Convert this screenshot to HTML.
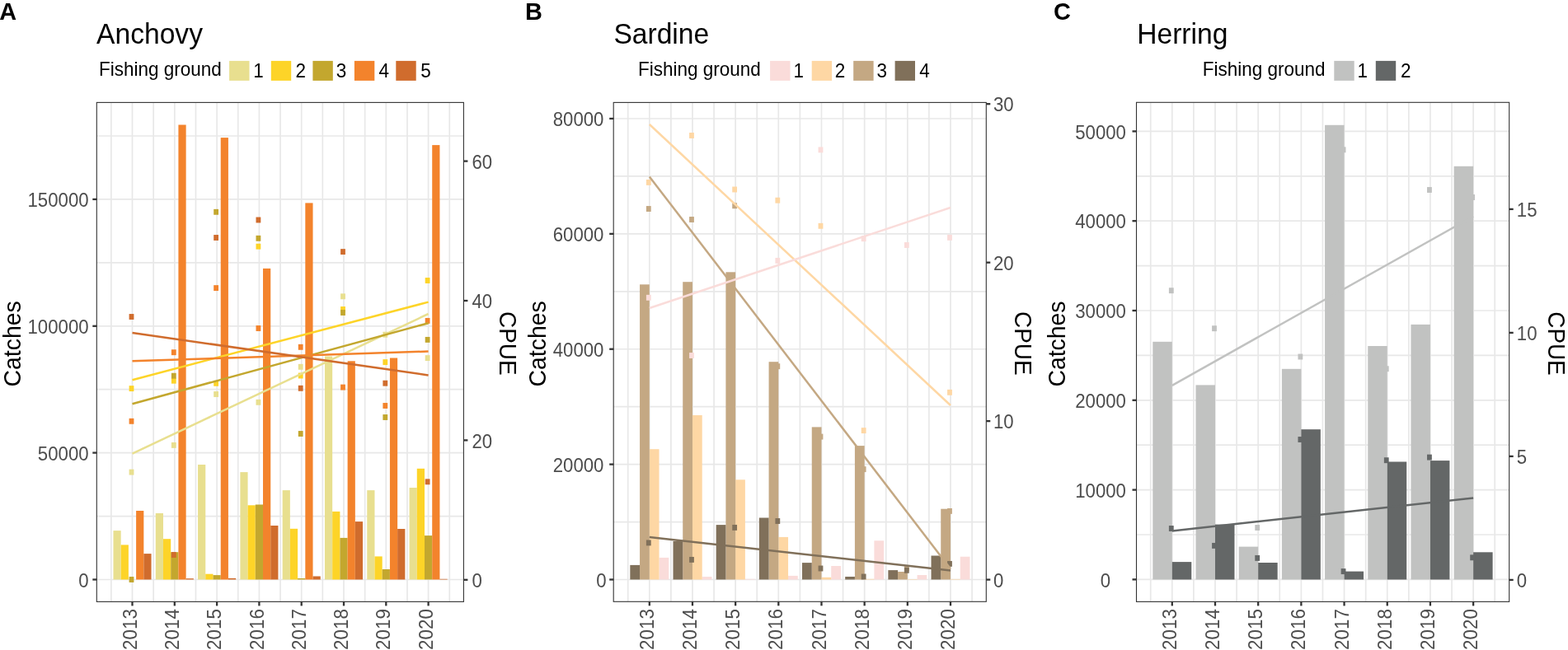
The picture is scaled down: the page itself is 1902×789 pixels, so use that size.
<!DOCTYPE html><html><head><meta charset="utf-8"><title>Catches and CPUE</title><style>html,body{margin:0;padding:0;background:#fff;overflow:hidden}svg{display:block}</style></head><body>
<svg width="1902" height="789" viewBox="0 0 1902 789" font-family="Liberation Sans, Arial, sans-serif">
<rect width="1902" height="789" fill="#fff"/>
<g stroke="#E8E8E8" stroke-width="1.7" fill="none">
<line x1="134.85" y1="124.4" x2="134.85" y2="730.4"/>
<line x1="160.5" y1="124.4" x2="160.5" y2="730.4"/>
<line x1="186.15" y1="124.4" x2="186.15" y2="730.4"/>
<line x1="211.8" y1="124.4" x2="211.8" y2="730.4"/>
<line x1="237.45" y1="124.4" x2="237.45" y2="730.4"/>
<line x1="263.1" y1="124.4" x2="263.1" y2="730.4"/>
<line x1="288.75" y1="124.4" x2="288.75" y2="730.4"/>
<line x1="314.4" y1="124.4" x2="314.4" y2="730.4"/>
<line x1="340.05" y1="124.4" x2="340.05" y2="730.4"/>
<line x1="365.7" y1="124.4" x2="365.7" y2="730.4"/>
<line x1="391.35" y1="124.4" x2="391.35" y2="730.4"/>
<line x1="417" y1="124.4" x2="417" y2="730.4"/>
<line x1="442.65" y1="124.4" x2="442.65" y2="730.4"/>
<line x1="468.3" y1="124.4" x2="468.3" y2="730.4"/>
<line x1="493.95" y1="124.4" x2="493.95" y2="730.4"/>
<line x1="519.6" y1="124.4" x2="519.6" y2="730.4"/>
<line x1="545.25" y1="124.4" x2="545.25" y2="730.4"/>
<line x1="117.3" y1="703.5" x2="562.4" y2="703.5"/>
<line x1="117.3" y1="626.57" x2="562.4" y2="626.57"/>
<line x1="117.3" y1="549.64" x2="562.4" y2="549.64"/>
<line x1="117.3" y1="472.71" x2="562.4" y2="472.71"/>
<line x1="117.3" y1="395.78" x2="562.4" y2="395.78"/>
<line x1="117.3" y1="318.85" x2="562.4" y2="318.85"/>
<line x1="117.3" y1="241.92" x2="562.4" y2="241.92"/>
<line x1="117.3" y1="164.99" x2="562.4" y2="164.99"/>
</g>
<g fill="#E8DF8F">
<rect x="137.45" y="644.1" width="9.22" height="59.4"/>
<rect x="188.75" y="623" width="9.22" height="80.5"/>
<rect x="240.05" y="564" width="9.22" height="139.5"/>
<rect x="291.35" y="573.1" width="9.22" height="130.4"/>
<rect x="342.65" y="595.1" width="9.22" height="108.4"/>
<rect x="393.95" y="432.5" width="9.22" height="271"/>
<rect x="445.25" y="595.1" width="9.22" height="108.4"/>
<rect x="496.55" y="592" width="9.22" height="111.5"/>
</g>
<g fill="#FDD428">
<rect x="146.67" y="661.4" width="9.22" height="42.1"/>
<rect x="197.97" y="654.2" width="9.22" height="49.3"/>
<rect x="249.27" y="696.7" width="9.22" height="6.8"/>
<rect x="300.57" y="613.3" width="9.22" height="90.2"/>
<rect x="351.87" y="641.8" width="9.22" height="61.7"/>
<rect x="403.17" y="620.9" width="9.22" height="82.6"/>
<rect x="454.47" y="675.4" width="9.22" height="28.1"/>
<rect x="505.77" y="568.8" width="9.22" height="134.7"/>
</g>
<g fill="#C3A72E">
<rect x="207.19" y="670.2" width="9.22" height="33.3"/>
<rect x="258.49" y="698.1" width="9.22" height="5.4"/>
<rect x="309.79" y="612.5" width="9.22" height="91"/>
<rect x="361.09" y="702" width="9.22" height="1.5"/>
<rect x="412.39" y="652.9" width="9.22" height="50.6"/>
<rect x="463.69" y="691" width="9.22" height="12.5"/>
<rect x="514.99" y="650.1" width="9.22" height="53.4"/>
</g>
<g fill="#F3832C">
<rect x="165.11" y="620" width="9.22" height="83.5"/>
<rect x="216.41" y="151.5" width="9.22" height="552"/>
<rect x="267.71" y="167.1" width="9.22" height="536.4"/>
<rect x="319.01" y="325.9" width="9.22" height="377.6"/>
<rect x="370.31" y="246.4" width="9.22" height="457.1"/>
<rect x="421.61" y="438.3" width="9.22" height="265.2"/>
<rect x="472.91" y="434.5" width="9.22" height="269"/>
<rect x="524.21" y="176.1" width="9.22" height="527.4"/>
</g>
<g fill="#D06C2D">
<rect x="174.33" y="672.1" width="9.22" height="31.4"/>
<rect x="225.63" y="702.2" width="9.22" height="1.3"/>
<rect x="276.93" y="701.9" width="9.22" height="1.6"/>
<rect x="328.23" y="638" width="9.22" height="65.5"/>
<rect x="379.53" y="699.5" width="9.22" height="4"/>
<rect x="430.83" y="633.1" width="9.22" height="70.4"/>
<rect x="482.13" y="642" width="9.22" height="61.5"/>
<rect x="533.43" y="702.8" width="9.22" height="0.7"/>
</g>
<g fill="#E8DF8F">
<rect x="156.6" y="569.65" width="5.8" height="6.9"/>
<rect x="207.9" y="536.95" width="5.8" height="6.9"/>
<rect x="259.2" y="475.05" width="5.8" height="6.9"/>
<rect x="310.5" y="484.85" width="5.8" height="6.9"/>
<rect x="361.8" y="441.85" width="5.8" height="6.9"/>
<rect x="413.1" y="356.35" width="5.8" height="6.9"/>
<rect x="464.4" y="402.75" width="5.8" height="6.9"/>
<rect x="515.7" y="431.15" width="5.8" height="6.9"/>
</g>
<g fill="#FDD428">
<rect x="156.6" y="468.15" width="5.8" height="6.9"/>
<rect x="207.9" y="458.75" width="5.8" height="6.9"/>
<rect x="259.2" y="461.85" width="5.8" height="6.9"/>
<rect x="310.5" y="295.75" width="5.8" height="6.9"/>
<rect x="361.8" y="452.55" width="5.8" height="6.9"/>
<rect x="413.1" y="372.05" width="5.8" height="6.9"/>
<rect x="464.4" y="436.15" width="5.8" height="6.9"/>
<rect x="515.7" y="337.05" width="5.8" height="6.9"/>
</g>
<g fill="#C3A72E">
<rect x="156.6" y="700.05" width="5.8" height="6.9"/>
<rect x="207.9" y="452.75" width="5.8" height="6.9"/>
<rect x="259.2" y="253.85" width="5.8" height="6.9"/>
<rect x="310.5" y="285.85" width="5.8" height="6.9"/>
<rect x="361.8" y="523.05" width="5.8" height="6.9"/>
<rect x="413.1" y="376.05" width="5.8" height="6.9"/>
<rect x="464.4" y="503.05" width="5.8" height="6.9"/>
<rect x="515.7" y="408.95" width="5.8" height="6.9"/>
</g>
<g fill="#F3832C">
<rect x="156.6" y="507.85" width="5.8" height="6.9"/>
<rect x="207.9" y="424.25" width="5.8" height="6.9"/>
<rect x="259.2" y="346.15" width="5.8" height="6.9"/>
<rect x="310.5" y="395.05" width="5.8" height="6.9"/>
<rect x="361.8" y="417.85" width="5.8" height="6.9"/>
<rect x="413.1" y="466.65" width="5.8" height="6.9"/>
<rect x="464.4" y="489.05" width="5.8" height="6.9"/>
<rect x="515.7" y="385.95" width="5.8" height="6.9"/>
</g>
<g fill="#D06C2D">
<rect x="156.6" y="381.05" width="5.8" height="6.9"/>
<rect x="207.9" y="670.05" width="5.8" height="6.9"/>
<rect x="259.2" y="285.05" width="5.8" height="6.9"/>
<rect x="310.5" y="263.55" width="5.8" height="6.9"/>
<rect x="361.8" y="467.85" width="5.8" height="6.9"/>
<rect x="413.1" y="302.15" width="5.8" height="6.9"/>
<rect x="464.4" y="461.75" width="5.8" height="6.9"/>
<rect x="515.7" y="581.35" width="5.8" height="6.9"/>
</g>
<line x1="160.5" y1="550.6" x2="519.6" y2="381" stroke="#E8DF8F" stroke-width="2.5"/>
<line x1="160.5" y1="461.2" x2="519.6" y2="366.6" stroke="#FDD428" stroke-width="2.5"/>
<line x1="160.5" y1="490.2" x2="519.6" y2="392.2" stroke="#C3A72E" stroke-width="2.5"/>
<line x1="160.5" y1="438.3" x2="519.6" y2="426.5" stroke="#F3832C" stroke-width="2.5"/>
<line x1="160.5" y1="404" x2="519.6" y2="455.4" stroke="#D06C2D" stroke-width="2.5"/>
<rect x="117.3" y="124.4" width="445.1" height="606" fill="none" stroke="#333333" stroke-width="1.1"/>
<g stroke="#333333" stroke-width="2.3">
<line x1="112.3" y1="703.5" x2="117.3" y2="703.5"/>
<line x1="112.3" y1="549.6" x2="117.3" y2="549.6"/>
<line x1="112.3" y1="395.8" x2="117.3" y2="395.8"/>
<line x1="112.3" y1="241.9" x2="117.3" y2="241.9"/>
<line x1="562.4" y1="703.8" x2="567.4" y2="703.8"/>
<line x1="562.4" y1="534.4" x2="567.4" y2="534.4"/>
<line x1="562.4" y1="365" x2="567.4" y2="365"/>
<line x1="562.4" y1="195.6" x2="567.4" y2="195.6"/>
<line x1="160.5" y1="730.4" x2="160.5" y2="735.4"/>
<line x1="211.8" y1="730.4" x2="211.8" y2="735.4"/>
<line x1="263.1" y1="730.4" x2="263.1" y2="735.4"/>
<line x1="314.4" y1="730.4" x2="314.4" y2="735.4"/>
<line x1="365.7" y1="730.4" x2="365.7" y2="735.4"/>
<line x1="417" y1="730.4" x2="417" y2="735.4"/>
<line x1="468.3" y1="730.4" x2="468.3" y2="735.4"/>
<line x1="519.6" y1="730.4" x2="519.6" y2="735.4"/>
</g>
<text transform="translate(95.26,712.69) scale(1,1.05)" font-size="22.2" fill="#4D4D4D">0</text>
<text transform="translate(45.86,558.79) scale(1,1.05)" font-size="22.2" fill="#4D4D4D">50000</text>
<text transform="translate(33.52,404.99) scale(1,1.05)" font-size="22.2" fill="#4D4D4D">100000</text>
<text transform="translate(33.52,251.09) scale(1,1.05)" font-size="22.2" fill="#4D4D4D">150000</text>
<text transform="translate(572.5,712.99) scale(1,1.05)" font-size="22.2" fill="#4D4D4D">0</text>
<text transform="translate(572.5,543.59) scale(1,1.05)" font-size="22.2" fill="#4D4D4D">20</text>
<text transform="translate(572.5,374.19) scale(1,1.05)" font-size="22.2" fill="#4D4D4D">40</text>
<text transform="translate(572.5,204.79) scale(1,1.05)" font-size="22.2" fill="#4D4D4D">60</text>
<text transform="translate(165.6,788.93) rotate(-90) scale(1,1.04)" font-size="22.4" fill="#4D4D4D">2013</text>
<text transform="translate(216.9,788.93) rotate(-90) scale(1,1.04)" font-size="22.4" fill="#4D4D4D">2014</text>
<text transform="translate(268.2,788.93) rotate(-90) scale(1,1.04)" font-size="22.4" fill="#4D4D4D">2015</text>
<text transform="translate(319.5,788.93) rotate(-90) scale(1,1.04)" font-size="22.4" fill="#4D4D4D">2016</text>
<text transform="translate(370.8,788.93) rotate(-90) scale(1,1.04)" font-size="22.4" fill="#4D4D4D">2017</text>
<text transform="translate(422.1,788.93) rotate(-90) scale(1,1.04)" font-size="22.4" fill="#4D4D4D">2018</text>
<text transform="translate(473.4,788.93) rotate(-90) scale(1,1.04)" font-size="22.4" fill="#4D4D4D">2019</text>
<text transform="translate(524.7,788.93) rotate(-90) scale(1,1.04)" font-size="22.4" fill="#4D4D4D">2020</text>
<text transform="translate(24.7,469.49) rotate(-90) scale(1,1.05)" font-size="28.4" fill="#000">Catches</text>
<text transform="translate(605.5,378.04) rotate(90) scale(1,1.06)" font-size="27.9" fill="#000">CPUE</text>
<text transform="translate(117.1,52.7) scale(1,1.05)" font-size="33.6" fill="#000">Anchovy</text>
<text transform="translate(-0.8,24.4) scale(1,1.05)" font-size="28.9" fill="#000" font-weight="bold">A</text>
<text transform="translate(120,91.6) scale(1,1.04)" font-size="22.5" fill="#000">Fishing ground</text>
<rect x="278.1" y="73.9" width="24.4" height="24" fill="#E8DF8F"/>
<text transform="translate(307.3,93.6) scale(1,1.04)" font-size="22.5" fill="#000">1</text>
<rect x="328.8" y="73.9" width="24.4" height="24" fill="#FDD428"/>
<text transform="translate(358.5,93.6) scale(1,1.04)" font-size="22.5" fill="#000">2</text>
<rect x="379.4" y="73.9" width="24.4" height="24" fill="#C3A72E"/>
<text transform="translate(407.8,93.6) scale(1,1.04)" font-size="22.5" fill="#000">3</text>
<rect x="429.9" y="73.9" width="24.4" height="24" fill="#F3832C"/>
<text transform="translate(459.5,93.6) scale(1,1.04)" font-size="22.5" fill="#000">4</text>
<rect x="480.3" y="73.9" width="24.4" height="24" fill="#D06C2D"/>
<text transform="translate(510.3,93.6) scale(1,1.04)" font-size="22.5" fill="#000">5</text>
<g stroke="#E8E8E8" stroke-width="1.7" fill="none">
<line x1="761.71" y1="124.4" x2="761.71" y2="730.3"/>
<line x1="787.8" y1="124.4" x2="787.8" y2="730.3"/>
<line x1="813.88" y1="124.4" x2="813.88" y2="730.3"/>
<line x1="839.97" y1="124.4" x2="839.97" y2="730.3"/>
<line x1="866.05" y1="124.4" x2="866.05" y2="730.3"/>
<line x1="892.14" y1="124.4" x2="892.14" y2="730.3"/>
<line x1="918.22" y1="124.4" x2="918.22" y2="730.3"/>
<line x1="944.31" y1="124.4" x2="944.31" y2="730.3"/>
<line x1="970.39" y1="124.4" x2="970.39" y2="730.3"/>
<line x1="996.48" y1="124.4" x2="996.48" y2="730.3"/>
<line x1="1022.56" y1="124.4" x2="1022.56" y2="730.3"/>
<line x1="1048.65" y1="124.4" x2="1048.65" y2="730.3"/>
<line x1="1074.73" y1="124.4" x2="1074.73" y2="730.3"/>
<line x1="1100.82" y1="124.4" x2="1100.82" y2="730.3"/>
<line x1="1126.9" y1="124.4" x2="1126.9" y2="730.3"/>
<line x1="1152.99" y1="124.4" x2="1152.99" y2="730.3"/>
<line x1="1179.08" y1="124.4" x2="1179.08" y2="730.3"/>
<line x1="744.2" y1="703.5" x2="1196.3" y2="703.5"/>
<line x1="744.2" y1="633.56" x2="1196.3" y2="633.56"/>
<line x1="744.2" y1="563.62" x2="1196.3" y2="563.62"/>
<line x1="744.2" y1="493.68" x2="1196.3" y2="493.68"/>
<line x1="744.2" y1="423.74" x2="1196.3" y2="423.74"/>
<line x1="744.2" y1="353.8" x2="1196.3" y2="353.8"/>
<line x1="744.2" y1="283.86" x2="1196.3" y2="283.86"/>
<line x1="744.2" y1="213.92" x2="1196.3" y2="213.92"/>
<line x1="744.2" y1="143.98" x2="1196.3" y2="143.98"/>
</g>
<g fill="#FADCDA">
<rect x="799.54" y="676.9" width="11.74" height="26.6"/>
<rect x="851.71" y="700.1" width="11.74" height="3.4"/>
<rect x="903.88" y="702.8" width="11.74" height="0.7"/>
<rect x="956.05" y="698.9" width="11.74" height="4.6"/>
<rect x="1008.22" y="687" width="11.74" height="16.5"/>
<rect x="1060.39" y="656.3" width="11.74" height="47.2"/>
<rect x="1112.56" y="698" width="11.74" height="5.5"/>
<rect x="1164.73" y="675.7" width="11.74" height="27.8"/>
</g>
<g fill="#FED7A4">
<rect x="787.8" y="545.2" width="11.74" height="158.3"/>
<rect x="839.97" y="504" width="11.74" height="199.5"/>
<rect x="892.14" y="582.3" width="11.74" height="121.2"/>
<rect x="944.31" y="651.9" width="11.74" height="51.6"/>
<rect x="996.48" y="700.8" width="11.74" height="2.7"/>
<rect x="1048.65" y="702.8" width="11.74" height="0.7"/>
<rect x="1100.82" y="703" width="11.74" height="0.5"/>
<rect x="1152.99" y="702.9" width="11.74" height="0.6"/>
</g>
<g fill="#C4A883">
<rect x="776.06" y="345.3" width="11.74" height="358.2"/>
<rect x="828.23" y="342.2" width="11.74" height="361.3"/>
<rect x="880.4" y="330.3" width="11.74" height="373.2"/>
<rect x="932.57" y="439.2" width="11.74" height="264.3"/>
<rect x="984.74" y="518.4" width="11.74" height="185.1"/>
<rect x="1036.91" y="541.1" width="11.74" height="162.4"/>
<rect x="1089.08" y="694" width="11.74" height="9.5"/>
<rect x="1141.25" y="617.7" width="11.74" height="85.8"/>
</g>
<g fill="#80705A">
<rect x="764.32" y="685.9" width="11.74" height="17.6"/>
<rect x="816.49" y="657" width="11.74" height="46.5"/>
<rect x="868.66" y="637.1" width="11.74" height="66.4"/>
<rect x="920.83" y="628.5" width="11.74" height="75"/>
<rect x="973" y="683.1" width="11.74" height="20.4"/>
<rect x="1025.17" y="700" width="11.74" height="3.5"/>
<rect x="1077.34" y="692.1" width="11.74" height="11.4"/>
<rect x="1129.51" y="674.5" width="11.74" height="29"/>
</g>
<g fill="#FADCDA">
<rect x="783.9" y="357.85" width="5.8" height="6.9"/>
<rect x="836.07" y="428.05" width="5.8" height="6.9"/>
<rect x="940.41" y="312.95" width="5.8" height="6.9"/>
<rect x="992.58" y="178.45" width="5.8" height="6.9"/>
<rect x="1044.75" y="286.25" width="5.8" height="6.9"/>
<rect x="1096.92" y="294.05" width="5.8" height="6.9"/>
<rect x="1149.09" y="284.95" width="5.8" height="6.9"/>
</g>
<g fill="#FED7A4">
<rect x="783.9" y="217.95" width="5.8" height="6.9"/>
<rect x="836.07" y="161.05" width="5.8" height="6.9"/>
<rect x="888.24" y="226.55" width="5.8" height="6.9"/>
<rect x="940.41" y="239.75" width="5.8" height="6.9"/>
<rect x="992.58" y="270.85" width="5.8" height="6.9"/>
<rect x="1044.75" y="519.15" width="5.8" height="6.9"/>
<rect x="1149.09" y="472.85" width="5.8" height="6.9"/>
</g>
<g fill="#C4A883">
<rect x="783.9" y="250.05" width="5.8" height="6.9"/>
<rect x="836.07" y="263.05" width="5.8" height="6.9"/>
<rect x="888.24" y="246.35" width="5.8" height="6.9"/>
<rect x="940.41" y="441.25" width="5.8" height="6.9"/>
<rect x="992.58" y="526.65" width="5.8" height="6.9"/>
<rect x="1044.75" y="566.15" width="5.8" height="6.9"/>
<rect x="1096.92" y="686.05" width="5.8" height="6.9"/>
<rect x="1149.09" y="616.95" width="5.8" height="6.9"/>
</g>
<g fill="#80705A">
<rect x="783.9" y="655.45" width="5.8" height="6.9"/>
<rect x="836.07" y="675.95" width="5.8" height="6.9"/>
<rect x="888.24" y="636.95" width="5.8" height="6.9"/>
<rect x="940.41" y="629.05" width="5.8" height="6.9"/>
<rect x="992.58" y="686.55" width="5.8" height="6.9"/>
<rect x="1044.75" y="696.55" width="5.8" height="6.9"/>
<rect x="1096.92" y="688.85" width="5.8" height="6.9"/>
<rect x="1149.09" y="680.95" width="5.8" height="6.9"/>
</g>
<line x1="787.8" y1="652.1" x2="1152.99" y2="692.4" stroke="#80705A" stroke-width="2.5"/>
<line x1="787.8" y1="214.4" x2="1152.99" y2="690.5" stroke="#C4A883" stroke-width="2.5"/>
<line x1="787.8" y1="151" x2="1152.99" y2="492" stroke="#FED7A4" stroke-width="2.5"/>
<line x1="787.8" y1="374" x2="1152.99" y2="252" stroke="#FADCDA" stroke-width="2.5"/>
<rect x="744.2" y="124.4" width="452.1" height="605.9" fill="none" stroke="#333333" stroke-width="1.1"/>
<g stroke="#333333" stroke-width="2.3">
<line x1="739.2" y1="703.5" x2="744.2" y2="703.5"/>
<line x1="739.2" y1="563.62" x2="744.2" y2="563.62"/>
<line x1="739.2" y1="423.74" x2="744.2" y2="423.74"/>
<line x1="739.2" y1="283.86" x2="744.2" y2="283.86"/>
<line x1="739.2" y1="143.98" x2="744.2" y2="143.98"/>
<line x1="1196.3" y1="703.6" x2="1201.3" y2="703.6"/>
<line x1="1196.3" y1="511.13" x2="1201.3" y2="511.13"/>
<line x1="1196.3" y1="318.66" x2="1201.3" y2="318.66"/>
<line x1="1196.3" y1="126.19" x2="1201.3" y2="126.19"/>
<line x1="787.8" y1="730.3" x2="787.8" y2="735.3"/>
<line x1="839.97" y1="730.3" x2="839.97" y2="735.3"/>
<line x1="892.14" y1="730.3" x2="892.14" y2="735.3"/>
<line x1="944.31" y1="730.3" x2="944.31" y2="735.3"/>
<line x1="996.48" y1="730.3" x2="996.48" y2="735.3"/>
<line x1="1048.65" y1="730.3" x2="1048.65" y2="735.3"/>
<line x1="1100.82" y1="730.3" x2="1100.82" y2="735.3"/>
<line x1="1152.99" y1="730.3" x2="1152.99" y2="735.3"/>
</g>
<text transform="translate(723.26,713.19) scale(1,1.05)" font-size="22.2" fill="#4D4D4D">0</text>
<text transform="translate(670.76,572.81) scale(1,1.05)" font-size="22.2" fill="#4D4D4D">20000</text>
<text transform="translate(670.76,432.93) scale(1,1.05)" font-size="22.2" fill="#4D4D4D">40000</text>
<text transform="translate(670.76,293.05) scale(1,1.05)" font-size="22.2" fill="#4D4D4D">60000</text>
<text transform="translate(670.76,153.17) scale(1,1.05)" font-size="22.2" fill="#4D4D4D">80000</text>
<text transform="translate(1204.9,712.79) scale(1,1.05)" font-size="22.2" fill="#4D4D4D">0</text>
<text transform="translate(1204.9,520.32) scale(1,1.05)" font-size="22.2" fill="#4D4D4D">10</text>
<text transform="translate(1204.9,327.85) scale(1,1.05)" font-size="22.2" fill="#4D4D4D">20</text>
<text transform="translate(1204.9,135.38) scale(1,1.05)" font-size="22.2" fill="#4D4D4D">30</text>
<text transform="translate(792.9,788.93) rotate(-90) scale(1,1.04)" font-size="22.4" fill="#4D4D4D">2013</text>
<text transform="translate(845.07,788.93) rotate(-90) scale(1,1.04)" font-size="22.4" fill="#4D4D4D">2014</text>
<text transform="translate(897.24,788.93) rotate(-90) scale(1,1.04)" font-size="22.4" fill="#4D4D4D">2015</text>
<text transform="translate(949.41,788.93) rotate(-90) scale(1,1.04)" font-size="22.4" fill="#4D4D4D">2016</text>
<text transform="translate(1001.58,788.93) rotate(-90) scale(1,1.04)" font-size="22.4" fill="#4D4D4D">2017</text>
<text transform="translate(1053.75,788.93) rotate(-90) scale(1,1.04)" font-size="22.4" fill="#4D4D4D">2018</text>
<text transform="translate(1105.92,788.93) rotate(-90) scale(1,1.04)" font-size="22.4" fill="#4D4D4D">2019</text>
<text transform="translate(1158.09,788.93) rotate(-90) scale(1,1.04)" font-size="22.4" fill="#4D4D4D">2020</text>
<text transform="translate(661.7,469.49) rotate(-90) scale(1,1.05)" font-size="28.4" fill="#000">Catches</text>
<text transform="translate(1230.6,378.04) rotate(90) scale(1,1.06)" font-size="27.9" fill="#000">CPUE</text>
<text transform="translate(744.4,52.7) scale(1,1.05)" font-size="33.6" fill="#000">Sardine</text>
<text transform="translate(637.1,24.4) scale(1,1.05)" font-size="28.9" fill="#000" font-weight="bold">B</text>
<text transform="translate(774.1,91.6) scale(1,1.04)" font-size="22.5" fill="#000">Fishing ground</text>
<rect x="934.1" y="73.9" width="24.4" height="24" fill="#FADCDA"/>
<text transform="translate(962.6,93.6) scale(1,1.04)" font-size="22.5" fill="#000">1</text>
<rect x="984.7" y="73.9" width="24.4" height="24" fill="#FED7A4"/>
<text transform="translate(1012.7,93.6) scale(1,1.04)" font-size="22.5" fill="#000">2</text>
<rect x="1035.2" y="73.9" width="24.4" height="24" fill="#C4A883"/>
<text transform="translate(1063.5,93.6) scale(1,1.04)" font-size="22.5" fill="#000">3</text>
<rect x="1085.6" y="73.9" width="24.4" height="24" fill="#80705A"/>
<text transform="translate(1115.3,93.6) scale(1,1.04)" font-size="22.5" fill="#000">4</text>
<g stroke="#E8E8E8" stroke-width="1.7" fill="none">
<line x1="1395.7" y1="124.3" x2="1395.7" y2="730.4"/>
<line x1="1421.8" y1="124.3" x2="1421.8" y2="730.4"/>
<line x1="1447.89" y1="124.3" x2="1447.89" y2="730.4"/>
<line x1="1473.99" y1="124.3" x2="1473.99" y2="730.4"/>
<line x1="1500.09" y1="124.3" x2="1500.09" y2="730.4"/>
<line x1="1526.18" y1="124.3" x2="1526.18" y2="730.4"/>
<line x1="1552.27" y1="124.3" x2="1552.27" y2="730.4"/>
<line x1="1578.37" y1="124.3" x2="1578.37" y2="730.4"/>
<line x1="1604.46" y1="124.3" x2="1604.46" y2="730.4"/>
<line x1="1630.56" y1="124.3" x2="1630.56" y2="730.4"/>
<line x1="1656.65" y1="124.3" x2="1656.65" y2="730.4"/>
<line x1="1682.75" y1="124.3" x2="1682.75" y2="730.4"/>
<line x1="1708.84" y1="124.3" x2="1708.84" y2="730.4"/>
<line x1="1734.94" y1="124.3" x2="1734.94" y2="730.4"/>
<line x1="1761.03" y1="124.3" x2="1761.03" y2="730.4"/>
<line x1="1787.13" y1="124.3" x2="1787.13" y2="730.4"/>
<line x1="1813.22" y1="124.3" x2="1813.22" y2="730.4"/>
<line x1="1378.5" y1="703.4" x2="1830.7" y2="703.4"/>
<line x1="1378.5" y1="649" x2="1830.7" y2="649"/>
<line x1="1378.5" y1="594.6" x2="1830.7" y2="594.6"/>
<line x1="1378.5" y1="540.2" x2="1830.7" y2="540.2"/>
<line x1="1378.5" y1="485.8" x2="1830.7" y2="485.8"/>
<line x1="1378.5" y1="431.4" x2="1830.7" y2="431.4"/>
<line x1="1378.5" y1="377" x2="1830.7" y2="377"/>
<line x1="1378.5" y1="322.6" x2="1830.7" y2="322.6"/>
<line x1="1378.5" y1="268.2" x2="1830.7" y2="268.2"/>
<line x1="1378.5" y1="213.8" x2="1830.7" y2="213.8"/>
<line x1="1378.5" y1="159.4" x2="1830.7" y2="159.4"/>
</g>
<g fill="#C1C2C1">
<rect x="1398.31" y="414.8" width="23.49" height="288.7"/>
<rect x="1450.5" y="467.4" width="23.49" height="236.1"/>
<rect x="1502.69" y="663.6" width="23.49" height="39.9"/>
<rect x="1554.88" y="447.8" width="23.49" height="255.7"/>
<rect x="1607.07" y="151.8" width="23.49" height="551.7"/>
<rect x="1659.26" y="420" width="23.49" height="283.5"/>
<rect x="1711.45" y="393.9" width="23.49" height="309.6"/>
<rect x="1763.64" y="201.8" width="23.49" height="501.7"/>
</g>
<g fill="#646767">
<rect x="1421.8" y="682.1" width="23.49" height="21.4"/>
<rect x="1473.99" y="636.6" width="23.49" height="66.9"/>
<rect x="1526.18" y="683" width="23.49" height="20.5"/>
<rect x="1578.37" y="521.2" width="23.49" height="182.3"/>
<rect x="1630.56" y="693.6" width="23.49" height="9.9"/>
<rect x="1682.75" y="560.5" width="23.49" height="143"/>
<rect x="1734.94" y="559.1" width="23.49" height="144.4"/>
<rect x="1787.13" y="670.3" width="23.49" height="33.2"/>
</g>
<g fill="#C1C2C1">
<rect x="1417.9" y="349.25" width="5.8" height="6.9"/>
<rect x="1470.09" y="395.25" width="5.8" height="6.9"/>
<rect x="1522.28" y="637.05" width="5.8" height="6.9"/>
<rect x="1574.47" y="429.55" width="5.8" height="6.9"/>
<rect x="1626.66" y="178.35" width="5.8" height="6.9"/>
<rect x="1678.85" y="444.25" width="5.8" height="6.9"/>
<rect x="1731.04" y="227.05" width="5.8" height="6.9"/>
<rect x="1783.23" y="236.05" width="5.8" height="6.9"/>
</g>
<g fill="#646767">
<rect x="1417.9" y="638.05" width="5.8" height="6.9"/>
<rect x="1470.09" y="658.95" width="5.8" height="6.9"/>
<rect x="1522.28" y="673.95" width="5.8" height="6.9"/>
<rect x="1574.47" y="530.05" width="5.8" height="6.9"/>
<rect x="1626.66" y="690.15" width="5.8" height="6.9"/>
<rect x="1678.85" y="555.25" width="5.8" height="6.9"/>
<rect x="1731.04" y="551.65" width="5.8" height="6.9"/>
<rect x="1783.23" y="673.35" width="5.8" height="6.9"/>
</g>
<line x1="1421.8" y1="467.8" x2="1787.13" y2="262.6" stroke="#C1C2C1" stroke-width="2.5"/>
<line x1="1421.8" y1="644.5" x2="1787.13" y2="604.5" stroke="#646767" stroke-width="2.5"/>
<rect x="1378.5" y="124.3" width="452.2" height="606.1" fill="none" stroke="#333333" stroke-width="1.1"/>
<g stroke="#333333" stroke-width="2.3">
<line x1="1373.5" y1="703.4" x2="1378.5" y2="703.4"/>
<line x1="1373.5" y1="594.6" x2="1378.5" y2="594.6"/>
<line x1="1373.5" y1="485.8" x2="1378.5" y2="485.8"/>
<line x1="1373.5" y1="377" x2="1378.5" y2="377"/>
<line x1="1373.5" y1="268.2" x2="1378.5" y2="268.2"/>
<line x1="1373.5" y1="159.4" x2="1378.5" y2="159.4"/>
<line x1="1830.7" y1="703.9" x2="1835.7" y2="703.9"/>
<line x1="1830.7" y1="553.9" x2="1835.7" y2="553.9"/>
<line x1="1830.7" y1="403.9" x2="1835.7" y2="403.9"/>
<line x1="1830.7" y1="253.9" x2="1835.7" y2="253.9"/>
<line x1="1421.8" y1="730.4" x2="1421.8" y2="735.4"/>
<line x1="1473.99" y1="730.4" x2="1473.99" y2="735.4"/>
<line x1="1526.18" y1="730.4" x2="1526.18" y2="735.4"/>
<line x1="1578.37" y1="730.4" x2="1578.37" y2="735.4"/>
<line x1="1630.56" y1="730.4" x2="1630.56" y2="735.4"/>
<line x1="1682.75" y1="730.4" x2="1682.75" y2="735.4"/>
<line x1="1734.94" y1="730.4" x2="1734.94" y2="735.4"/>
<line x1="1787.13" y1="730.4" x2="1787.13" y2="735.4"/>
</g>
<text transform="translate(1334.66,712.59) scale(1,1.05)" font-size="22.2" fill="#4D4D4D">0</text>
<text transform="translate(1304.26,603.79) scale(1,1.05)" font-size="22.2" fill="#4D4D4D">10000</text>
<text transform="translate(1304.26,494.99) scale(1,1.05)" font-size="22.2" fill="#4D4D4D">20000</text>
<text transform="translate(1304.26,386.19) scale(1,1.05)" font-size="22.2" fill="#4D4D4D">30000</text>
<text transform="translate(1304.26,277.39) scale(1,1.05)" font-size="22.2" fill="#4D4D4D">40000</text>
<text transform="translate(1304.26,168.59) scale(1,1.05)" font-size="22.2" fill="#4D4D4D">50000</text>
<text transform="translate(1839.8,713.09) scale(1,1.05)" font-size="22.2" fill="#4D4D4D">0</text>
<text transform="translate(1839.8,563.09) scale(1,1.05)" font-size="22.2" fill="#4D4D4D">5</text>
<text transform="translate(1839.8,413.09) scale(1,1.05)" font-size="22.2" fill="#4D4D4D">10</text>
<text transform="translate(1839.8,263.09) scale(1,1.05)" font-size="22.2" fill="#4D4D4D">15</text>
<text transform="translate(1426.9,788.93) rotate(-90) scale(1,1.04)" font-size="22.4" fill="#4D4D4D">2013</text>
<text transform="translate(1479.09,788.93) rotate(-90) scale(1,1.04)" font-size="22.4" fill="#4D4D4D">2014</text>
<text transform="translate(1531.28,788.93) rotate(-90) scale(1,1.04)" font-size="22.4" fill="#4D4D4D">2015</text>
<text transform="translate(1583.47,788.93) rotate(-90) scale(1,1.04)" font-size="22.4" fill="#4D4D4D">2016</text>
<text transform="translate(1635.66,788.93) rotate(-90) scale(1,1.04)" font-size="22.4" fill="#4D4D4D">2017</text>
<text transform="translate(1687.85,788.93) rotate(-90) scale(1,1.04)" font-size="22.4" fill="#4D4D4D">2018</text>
<text transform="translate(1740.04,788.93) rotate(-90) scale(1,1.04)" font-size="22.4" fill="#4D4D4D">2019</text>
<text transform="translate(1792.23,788.93) rotate(-90) scale(1,1.04)" font-size="22.4" fill="#4D4D4D">2020</text>
<text transform="translate(1291.9,469.59) rotate(-90) scale(1,1.05)" font-size="28.4" fill="#000">Catches</text>
<text transform="translate(1878.4,378.24) rotate(90) scale(1,1.06)" font-size="27.9" fill="#000">CPUE</text>
<text transform="translate(1379.2,52.7) scale(1,1.05)" font-size="33.6" fill="#000">Herring</text>
<text transform="translate(1278.1,24.4) scale(1,1.05)" font-size="28.9" fill="#000" font-weight="bold">C</text>
<text transform="translate(1458.8,91.6) scale(1,1.04)" font-size="22.5" fill="#000">Fishing ground</text>
<rect x="1618.3" y="73.9" width="24.4" height="24" fill="#C1C2C1"/>
<text transform="translate(1646.4,93.6) scale(1,1.04)" font-size="22.5" fill="#000">1</text>
<rect x="1668.8" y="73.9" width="24.4" height="24" fill="#646767"/>
<text transform="translate(1699,93.6) scale(1,1.04)" font-size="22.5" fill="#000">2</text>
</svg></body></html>
